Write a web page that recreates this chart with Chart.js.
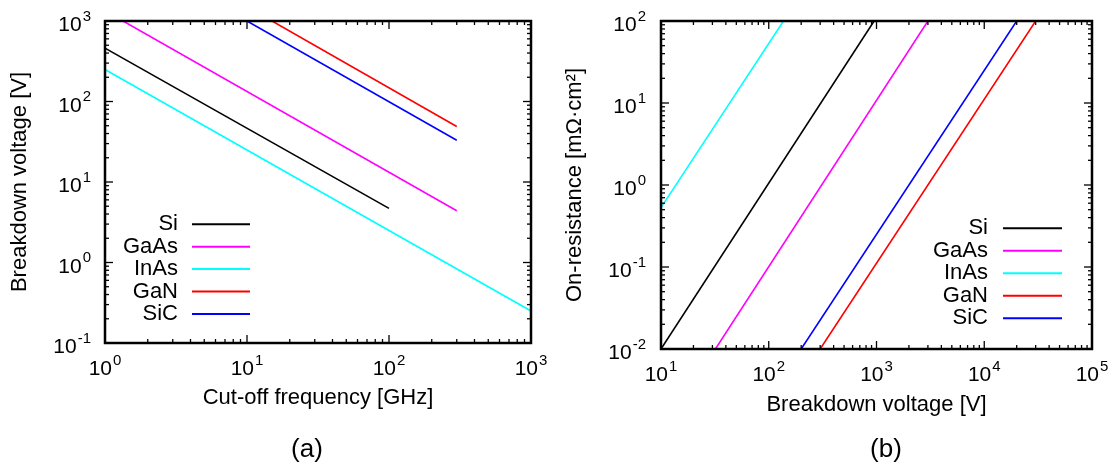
<!DOCTYPE html>
<html>
<head>
<meta charset="utf-8">
<script src="https://cdn.jsdelivr.net/npm/chart.js@4"></script>
<style>
  body { margin: 0; background: #fff; }
  #wrap { position: relative; width: 1117px; height: 466px; overflow: hidden; }
  canvas { position: absolute; top: 0; }
  .tag { position: absolute; top: 433px; width: 80px; height: 32px; line-height: 32px; text-align: center;
         font: 26px "Liberation Sans", Arial, sans-serif; color: #000; }
</style>
</head>
<body>
<div id="wrap">
  <canvas id="chartA" width="557" height="466" style="left:0"></canvas>
  <canvas id="chartB" width="560" height="466" style="left:557px"></canvas>
  <div class="tag" style="left:267px">(a)</div>
  <div class="tag" style="left:846px">(b)</div>
</div>
<script>
// materials, in legend order
const materials = ['Si', 'GaAs', 'InAs', 'GaN', 'SiC'];
const lineColors = ['#000000', '#ff00ff', '#00ffff', '#ff0000', '#0000ff'];

// (a) end points of each line: cut-off frequency [GHz] -> breakdown voltage [V]
const cutoffFreq = [[1, 100], [1.34, 300], [1, 1000], [15, 300], [10, 300]];
const breakdownA = [[460, 4.7], [1000, 4.4], [250, 0.25], [1000, 49], [1000, 33]];

// (b) end points: breakdown voltage [V] -> on-resistance [mOhm cm2]
const breakdownB = [[10, 950], [32, 3000], [10, 137], [300, 30000], [200, 20000]];
const onResistance = [[0.01, 100], [0.01, 100], [0.53, 100], [0.01, 100], [0.01, 100]];

// tick labels are 10^n, these are the exponents
const freqDecades = [0, 1, 2, 3];
const vbrDecadesA = [-1, 0, 1, 2, 3];
const vbrDecadesB = [1, 2, 3, 4, 5];
const ronDecades = [-2, -1, 0, 1, 2];

Chart.defaults.font.family = '"Liberation Sans", Arial, sans-serif';
Chart.defaults.color = '#000';

function drawPow(ctx, e, x, y, align) {
  ctx.font = '21px "Liberation Sans", Arial, sans-serif';
  const wb = ctx.measureText('10').width;
  ctx.font = '15px "Liberation Sans", Arial, sans-serif';
  const ws = ctx.measureText(String(e)).width;
  const w = wb + 1 + ws;
  const x0 = align === 'right' ? x - w : x - w / 2;
  ctx.textAlign = 'left';
  ctx.textBaseline = 'alphabetic';
  ctx.font = '21px "Liberation Sans", Arial, sans-serif';
  ctx.fillText('10', x0, y);
  ctx.font = '15px "Liberation Sans", Arial, sans-serif';
  ctx.fillText(String(e), x0 + wb + 1, y - 10.5);
}

// gnuplot look: thick frame, inward ticks on all sides, 10^n labels, key in the plot
const gnuFrame = {
  id: 'gnuFrame',
  afterDatasetsDraw(chart, args, opts) {
    const ctx = chart.ctx;
    const {left, right, top, bottom} = chart.chartArea;
    const xs = chart.scales.x, ys = chart.scales.y;
    const seg = (x1, y1, x2, y2) => { ctx.beginPath(); ctx.moveTo(x1, y1); ctx.lineTo(x2, y2); ctx.stroke(); };
    ctx.save();
    ctx.strokeStyle = '#000';
    ctx.fillStyle = '#000';
    ctx.lineWidth = 1.3;

    opts.xDec.forEach((e, i) => {
      const last = i === opts.xDec.length - 1;
      for (let k = 1; k <= (last ? 1 : 9); k++) {
        const p = xs.getPixelForValue(k * Math.pow(10, e));
        const len = k === 1 ? 8 : 4;
        seg(p, bottom, p, bottom - len);
        seg(p, top, p, top + len);
      }
    });
    opts.yDec.forEach((e, i) => {
      const last = i === opts.yDec.length - 1;
      for (let k = 1; k <= (last ? 1 : 9); k++) {
        const p = ys.getPixelForValue(k * Math.pow(10, e));
        const len = k === 1 ? 8 : 4;
        seg(left, p, left + len, p);
        seg(right, p, right - len, p);
      }
    });

    ctx.lineWidth = 2.5;
    ctx.strokeRect(left, top, right - left, bottom - top);

    opts.xDec.forEach(e => drawPow(ctx, e, xs.getPixelForValue(Math.pow(10, e)), bottom + 32, 'center'));
    opts.yDec.forEach(e => drawPow(ctx, e, left - opts.labelGap, ys.getPixelForValue(Math.pow(10, e)) + 10, 'right'));

    const key = opts.key;
    ctx.font = '22px "Liberation Sans", Arial, sans-serif';
    ctx.textAlign = 'right';
    ctx.textBaseline = 'middle';
    chart.data.datasets.forEach((ds, i) => {
      const y = key.y0 + i * key.dy;
      ctx.fillStyle = '#000';
      ctx.fillText(ds.label, key.textRight, y);
      ctx.strokeStyle = ds.borderColor;
      ctx.lineWidth = 2;
      seg(key.x1, y, key.x2, y);
    });
    ctx.restore();
  }
};

function makeDatasets(xs, ys) {
  return materials.map((name, i) => ({
    label: name,
    data: xs[i].map((x, j) => ({x: x, y: ys[i][j]})),
    borderColor: lineColors[i],
    borderWidth: 1.6,
    pointRadius: 0,
    showLine: true,
    fill: false
  }));
}

function logAxis(decades, width, height, title, titlePad) {
  const axis = {
    type: 'logarithmic',
    min: Math.pow(10, decades[0]),
    max: Math.pow(10, decades[decades.length - 1]),
    grid: { display: false },
    border: { display: false },
    ticks: { display: false },
    title: {
      display: true,
      text: title,
      font: { size: 22 },
      color: '#000',
      padding: titlePad
    }
  };
  if (width) axis.afterFit = scale => { scale.width = width; };
  if (height) axis.afterFit = scale => { scale.height = height; };
  return axis;
}

// (a)
const ctxA = document.getElementById('chartA').getContext('2d');
const chartA = new Chart(ctxA, {
  type: 'scatter',
  data: { datasets: makeDatasets(cutoffFreq, breakdownA) },
  options: {
    responsive: false,
    animation: false,
    devicePixelRatio: 1,
    layout: { padding: { top: 21, right: 26, bottom: 53, left: 0 } },
    scales: {
      x: logAxis(freqDecades, null, 70, 'Cut-off frequency [GHz]', { top: 0, bottom: 2 }),
      y: logAxis(vbrDecadesA, 105, null, 'Breakdown voltage [V]', { top: 7, bottom: 0 })
    },
    plugins: {
      legend: { display: false },
      tooltip: { enabled: false },
      gnuFrame: {
        xDec: freqDecades, yDec: vbrDecadesA, labelGap: 14,
        key: { textRight: 178, x1: 192, x2: 250, y0: 224.3, dy: 22.4 }
      }
    }
  },
  plugins: [gnuFrame]
});

// (b)
const ctxB = document.getElementById('chartB').getContext('2d');
const chartB = new Chart(ctxB, {
  type: 'scatter',
  data: { datasets: makeDatasets(breakdownB, onResistance) },
  options: {
    responsive: false,
    animation: false,
    devicePixelRatio: 1,
    layout: { padding: { top: 21, right: 25, bottom: 47, left: 0 } },
    scales: {
      x: logAxis(vbrDecadesB, null, 70, 'Breakdown voltage [V]', { top: 0, bottom: 1 }),
      y: logAxis(ronDecades, 104, null, 'On-resistance [mΩ·cm²]', { top: 5, bottom: 0 })
    },
    plugins: {
      legend: { display: false },
      tooltip: { enabled: false },
      gnuFrame: {
        xDec: vbrDecadesB, yDec: ronDecades, labelGap: 15,
        key: { textRight: 431, x1: 446, x2: 505, y0: 228.3, dy: 22.5 }
      }
    }
  },
  plugins: [gnuFrame]
});
</script>
</body>
</html>
